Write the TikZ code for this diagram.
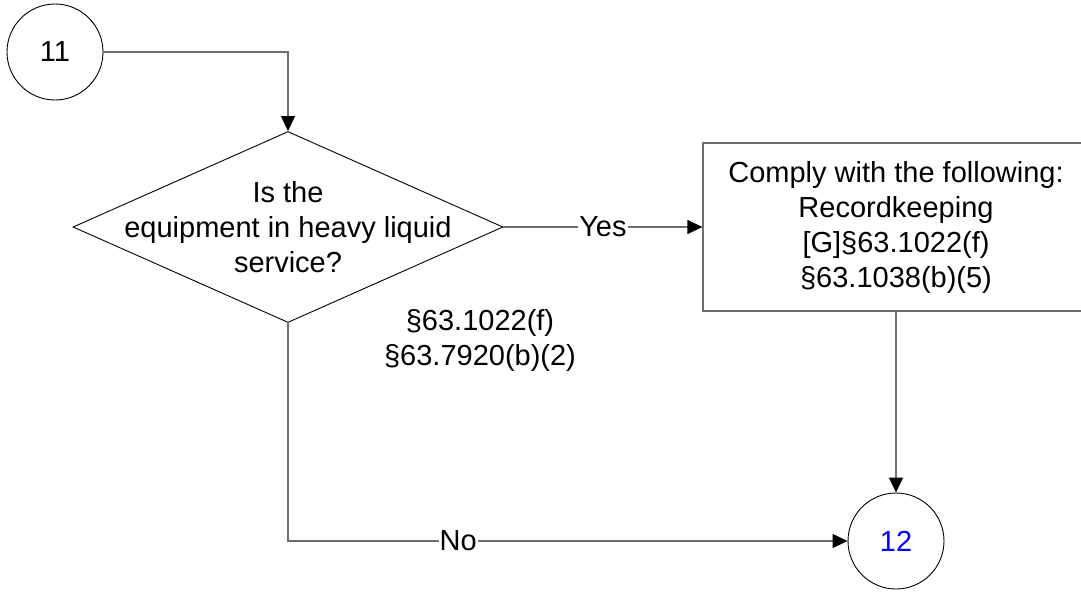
\documentclass[tikz,border=0pt]{standalone}
\usepackage{fontspec}
\setmainfont{Liberation Sans}
\usetikzlibrary{shapes.geometric,arrows.meta}
\definecolor{linegray}{RGB}{110,110,110}
\definecolor{numblue}{RGB}{0,0,255}
\begin{document}
\begin{tikzpicture}[x=1pt, y=-1pt,
		font=\fontsize{29}{35}\selectfont,
		connector/.style={circle,draw,line width=0.9pt,minimum size=96pt,inner sep=0pt},
		decision/.style={diamond,draw,line width=0.9pt,minimum width=430pt,minimum height=191pt,inner sep=0pt},
		action/.style={rectangle,draw=linegray,line width=1.2pt,minimum width=386pt,minimum height=168pt,align=center},
		flow/.style={draw=linegray,line width=1.2pt,-{Triangle[length=15pt,width=14pt,black]}},
		answer/.style={fill=white,inner sep=1pt}
		]
	\useasboundingbox (0,0) rectangle (1081,592);
	\node [connector] (c11) at (55,52) {11};
	\node [decision, label={[align=center]center:Is the\\equipment in heavy liquid\\service?}] (q) at (288,227) {};
	\node [action] (act) at (896,227) {Comply with the following:\\Recordkeeping\\{[G]}§63.1022(f)\\§63.1038(b)(5)};
	\node [connector, text=numblue] (c12) at (896,541) {12};
	\node [align=center] (cite) at (480,340) {§63.1022(f)\\§63.7920(b)(2)};
	\draw [flow] (c11.east) -| (q.north);
	\draw [flow] (q.east) -- node [answer] (yes) {Yes} (act.west);
	\draw [flow] (act.south) -- (c12.north);
	\draw [flow] (q.south) |- node [answer, pos=0.652] (no) {No} (c12.west);
\end{tikzpicture}
\end{document}
